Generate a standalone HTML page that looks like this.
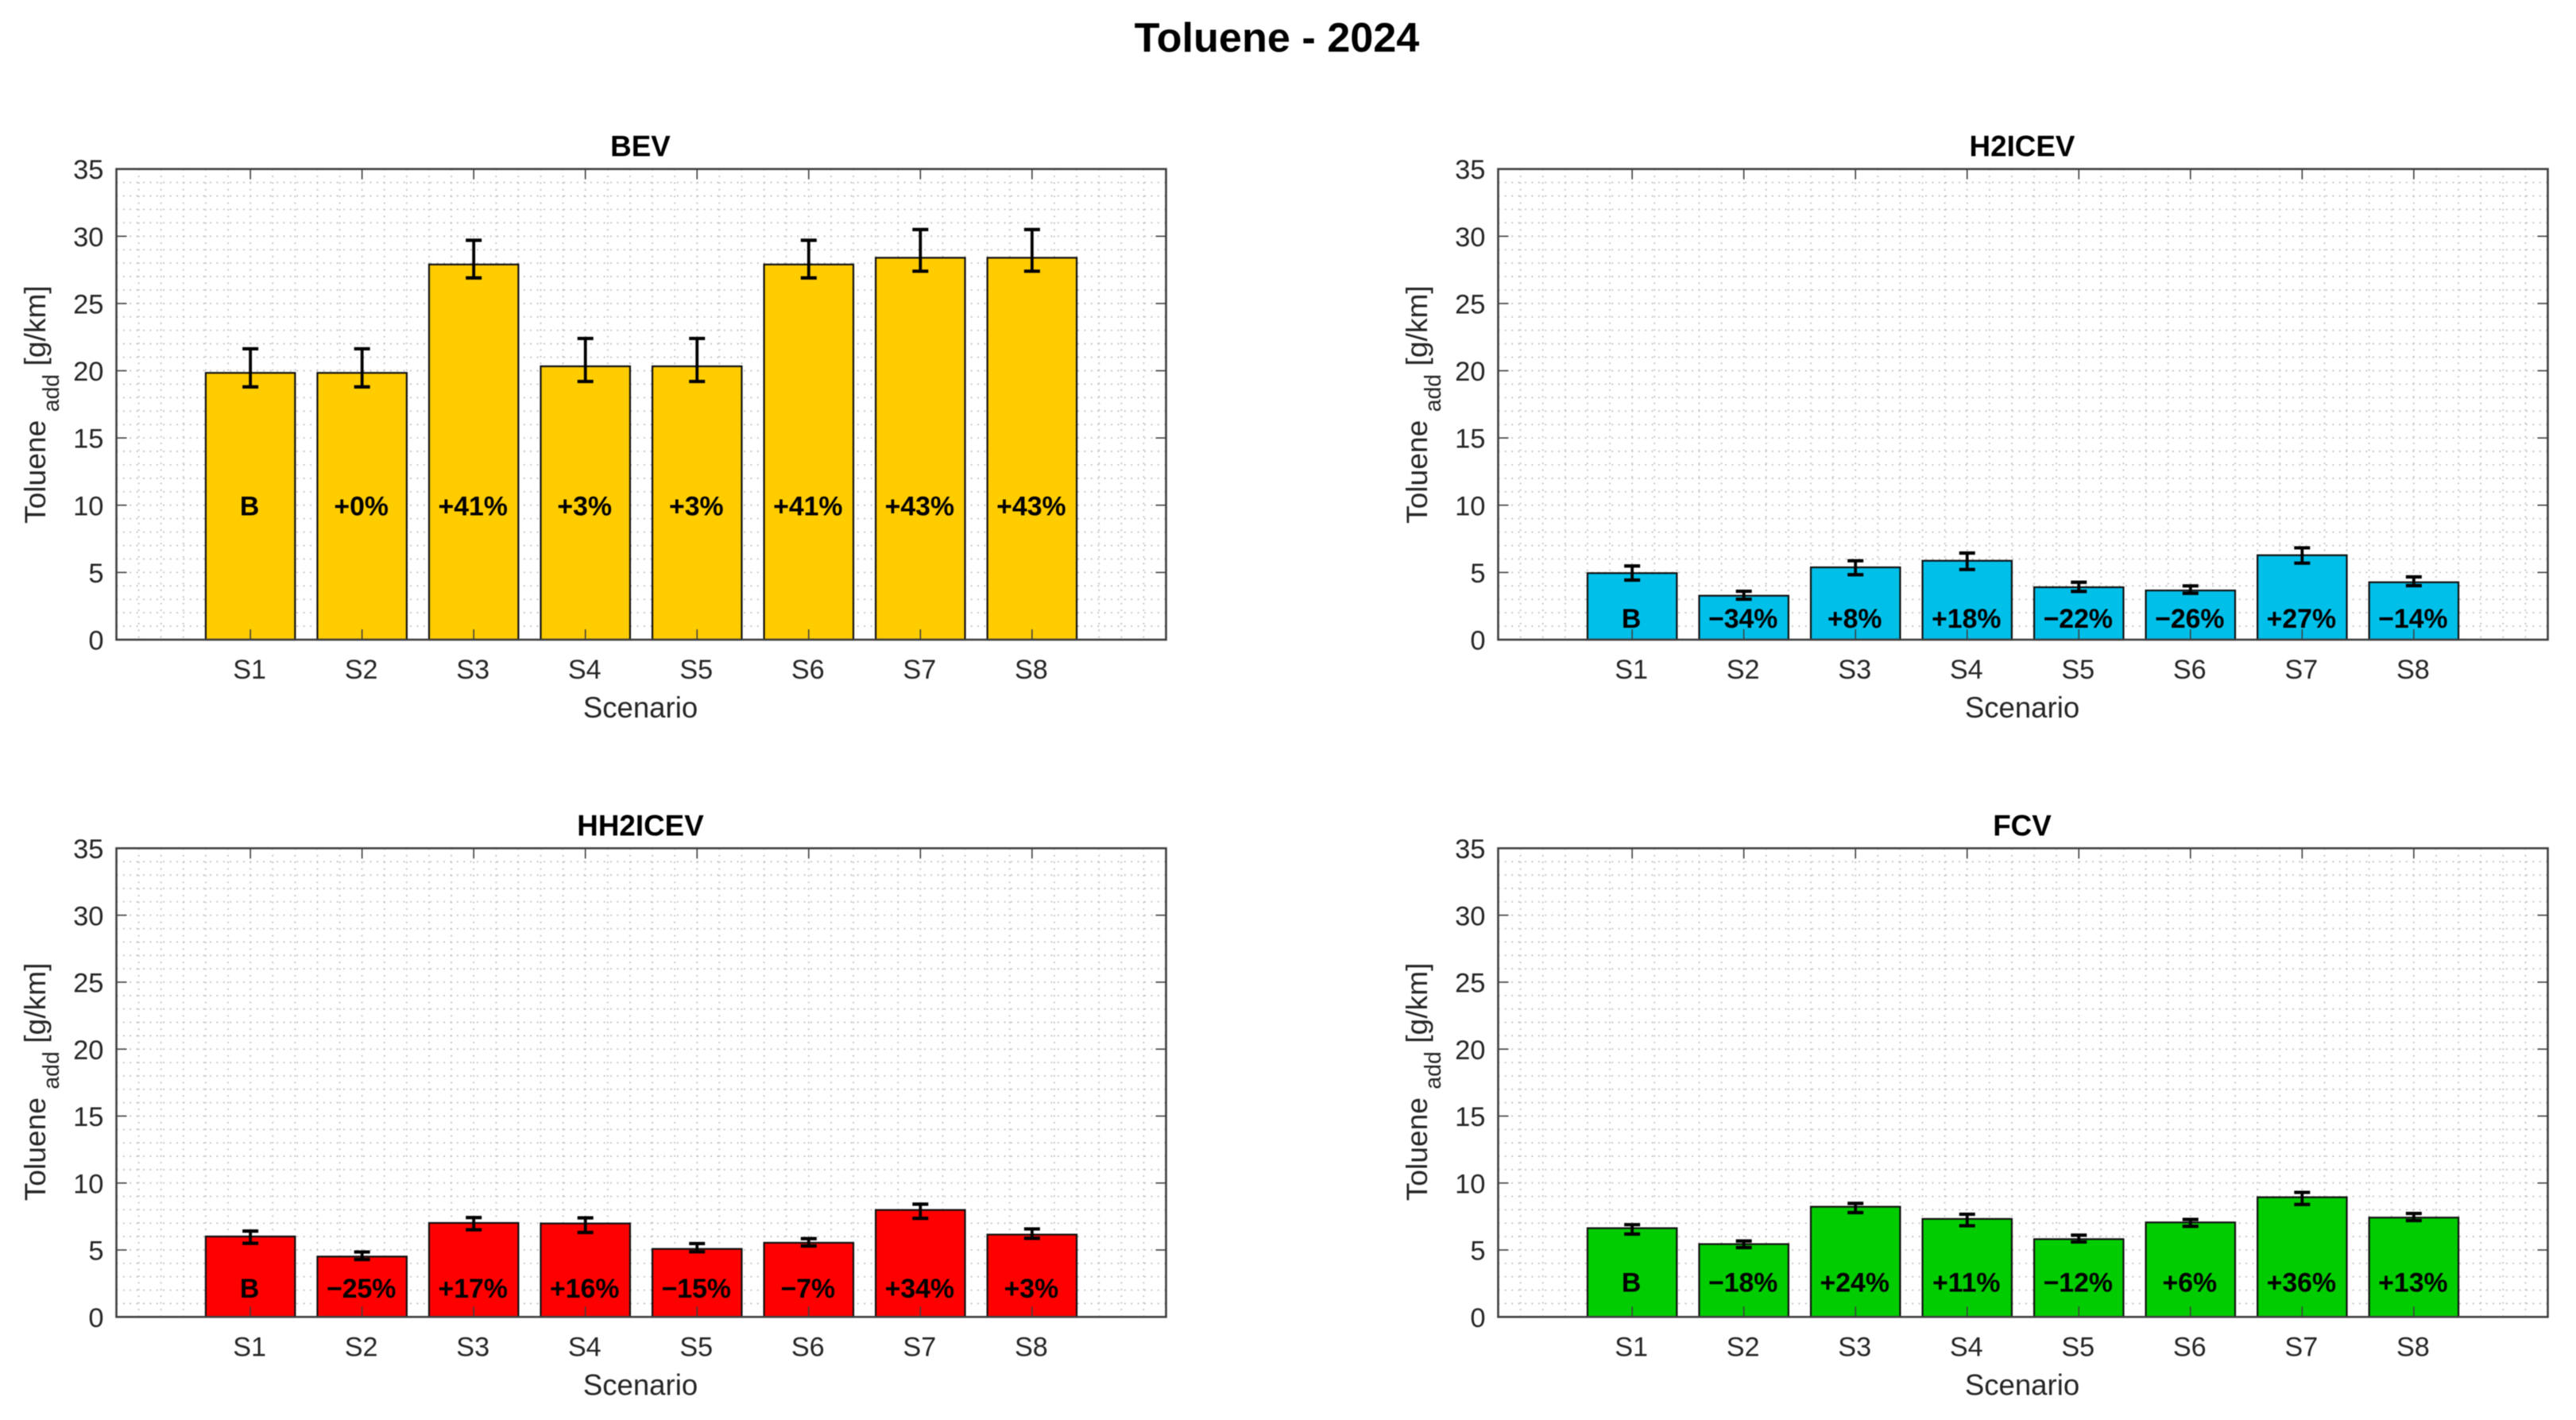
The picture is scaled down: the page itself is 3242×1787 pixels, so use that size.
<!DOCTYPE html>
<html lang="en">
<head>
<meta charset="utf-8">
<title>Toluene - 2024</title>
<style>
html,body{margin:0;padding:0;background:#fff;width:3242px;height:1787px;overflow:hidden}
svg{display:block;font-family:"Liberation Sans",Arial,sans-serif;filter:blur(0.5px)}
</style>
</head>
<body>
<svg id="figure" xmlns="http://www.w3.org/2000/svg" width="3242" height="1787" viewBox="0 0 3242 1787">
<rect x="0" y="0" width="3242" height="1787" fill="#ffffff"/>
<text x="1607" y="65" text-anchor="middle" font-size="52.2" font-weight="700" fill="#000">Toluene - 2024</text>
</svg>
<script>
const categories = ['S1','S2','S3','S4','S5','S6','S7','S8'];
const yTickLabels = [0,5,10,15,20,25,30,35];

const bevValues = [19.84,19.84,27.9,20.33,20.33,27.9,28.4,28.4];
const bevUpper  = [21.63,21.63,29.7,22.4,22.4,29.7,30.5,30.5];
const bevLower  = [18.8,18.8,26.9,19.2,19.2,26.9,27.4,27.4];
const bevLabels = ['B','+0%','+41%','+3%','+3%','+41%','+43%','+43%'];

const h2iceValues = [4.95,3.27,5.38,5.87,3.9,3.66,6.28,4.27];
const h2iceUpper  = [5.48,3.6,5.87,6.44,4.27,4.0,6.83,4.67];
const h2iceLower  = [4.43,3.01,4.83,5.22,3.59,3.45,5.69,4.02];
const h2iceLabels = ['B','\u221234%','+8%','+18%','\u221222%','\u221226%','+27%','\u221214%'];

const hh2iceValues = [6.01,4.51,7.02,6.98,5.08,5.54,7.99,6.15];
const hh2iceUpper  = [6.41,4.85,7.42,7.40,5.48,5.85,8.42,6.57];
const hh2iceLower  = [5.50,4.29,6.51,6.31,4.87,5.30,7.36,5.87];
const hh2iceLabels = ['B','\u221225%','+17%','+16%','\u221215%','\u22127%','+34%','+3%'];

const fcvValues = [6.63,5.44,8.23,7.32,5.81,7.06,8.94,7.42];
const fcvUpper  = [6.89,5.67,8.48,7.67,6.11,7.28,9.30,7.73];
const fcvLower  = [6.19,5.18,7.79,6.81,5.60,6.77,8.40,7.20];
const fcvLabels = ['B','\u221218%','+24%','+11%','\u221212%','+6%','+36%','+13%'];

const NS = 'http://www.w3.org/2000/svg';
const figure = document.getElementById('figure');
const PLOT_W = 1321;
const X_MIN = -0.2, X_MAX = 9.2, Y_MAX = 35;

function make(tag, attrs, parent) {
  const el = document.createElementNS(NS, tag);
  for (const k in attrs) el.setAttribute(k, attrs[k]);
  parent.appendChild(el);
  return el;
}

function drawPanel(cfg) {
  const left = cfg.left, top = cfg.top, right = left + PLOT_W, bottom = top + cfg.height;
  const xScale = v => left + (v - X_MIN) / (X_MAX - X_MIN) * PLOT_W;
  const yScale = v => bottom - v / Y_MAX * cfg.height;
  const slug = cfg.slug;

  const g = make('g', {}, figure);
  
  

  const grid = make('g', {stroke:'#bdbdbd','stroke-width':1.8,'stroke-dasharray':'1.8 6.6',fill:'none'}, g);
  
  
  for (let i = 1; i < Y_MAX; i++) {
    make('line', {x1:left, x2:right, y1:yScale(i), y2:yScale(i)}, grid);
  }
  for (let i = 1; i < 47; i++) {
    const gx = xScale(X_MIN + i * 0.2);
    make('line', {x1:gx, x2:gx, y1:top, y2:bottom}, grid);
  }

  const barW = xScale(0.8) - xScale(0);
  categories.forEach((cat, i) => {
    const cx = xScale(i + 1);
    const val = cfg.values[i];
    const bar = make('rect', {x:cx - barW / 2, y:yScale(val), width:barW, height:bottom - yScale(val), fill:cfg.color, stroke:'#111', 'stroke-width':2.2}, g);
    
    
  });

  categories.forEach((cat, i) => {
    const cx = xScale(i + 1);
    const eb = make('g', {stroke:'#000', fill:'none'}, g);
    
    
    const hi = yScale(cfg.upper[i]), lo = yScale(cfg.lower[i]);
    make('line', {x1:cx, x2:cx, y1:hi, y2:lo, 'stroke-width':3.8}, eb);
    make('line', {x1:cx - 10, x2:cx + 10, y1:hi, y2:hi, 'stroke-width':4.2}, eb);
    make('line', {x1:cx - 10, x2:cx + 10, y1:lo, y2:lo, 'stroke-width':4.2}, eb);

    const lab = make('text', {x:cx - 1, y:yScale(cfg.labelLevel) + 12, 'text-anchor':'middle', 'font-size':33.8, 'font-weight':700, fill:'#000'}, g);
    lab.textContent = cfg.labels[i];
    
    
  });

  const ticks = make('g', {stroke:'#404040','stroke-width':1.6}, g);
  
  
  categories.forEach((cat, i) => {
    const cx = xScale(i + 1);
    make('line', {x1:cx, x2:cx, y1:bottom, y2:bottom - 13}, ticks);
    make('line', {x1:cx, x2:cx, y1:top, y2:top + 13}, ticks);
    const t = make('text', {x:cx - 1, y:bottom + 49, 'text-anchor':'middle', 'font-size':34.2, fill:'#262626'}, g);
    t.textContent = cat;
    
    
  });
  yTickLabels.forEach(v => {
    const ty = yScale(v);
    make('line', {x1:left, x2:left + 13, y1:ty, y2:ty}, ticks);
    make('line', {x1:right, x2:right - 13, y1:ty, y2:ty}, ticks);
    const t = make('text', {x:left - 16, y:ty + 12.5, 'text-anchor':'end', 'font-size':34.5, fill:'#262626'}, g);
    t.textContent = v;
    
    
  });

  const box = make('rect', {x:left, y:top, width:PLOT_W, height:cfg.height, fill:'none', stroke:'#404040', 'stroke-width':2.6}, g);
  
  

  const title = make('text', {x:left + PLOT_W / 2 - 1, y:top - 16, 'text-anchor':'middle', 'font-size':36.8, 'font-weight':700, fill:'#000'}, g);
  title.textContent = cfg.title;
  
  

  const xl = make('text', {x:left + PLOT_W / 2 - 1, y:bottom + 98, 'text-anchor':'middle', 'font-size':36.6, fill:'#262626'}, g);
  xl.textContent = 'Scenario';
  
  

  const yl = make('text', {transform:'translate(' + (left - 89.5) + ',' + (bottom - 146) + ') rotate(-90)', 'font-size':37.2, fill:'#262626', 'xml:space':'preserve'}, g);
  
  
  const s1 = make('tspan', {}, yl);
  s1.textContent = 'Toluene\u00a0';
  const s2 = make('tspan', {dy:17, 'font-size':28.5}, yl);
  s2.textContent = 'add';
  const s3 = make('tspan', {dy:-17}, yl);
  s3.textContent = '\u00a0[g/km]';
}

drawPanel({slug:'bev', title:'BEV', left:146.5, top:212.7, height:592.3, color:'#ffcc00', labelLevel:9.95, values:bevValues, upper:bevUpper, lower:bevLower, labels:bevLabels});
drawPanel({slug:'h2icev', title:'H2ICEV', left:1885.5, top:212.7, height:592.3, color:'#00bfe9', labelLevel:1.6, values:h2iceValues, upper:h2iceUpper, lower:h2iceLower, labels:h2iceLabels});
drawPanel({slug:'hh2icev', title:'HH2ICEV', left:146.5, top:1067.5, height:589.8, color:'#ff0000', labelLevel:2.15, values:hh2iceValues, upper:hh2iceUpper, lower:hh2iceLower, labels:hh2iceLabels});
drawPanel({slug:'fcv', title:'FCV', left:1885.5, top:1067.5, height:589.8, color:'#00cc00', labelLevel:2.6, values:fcvValues, upper:fcvUpper, lower:fcvLower, labels:fcvLabels});
</script>
</body>
</html>
